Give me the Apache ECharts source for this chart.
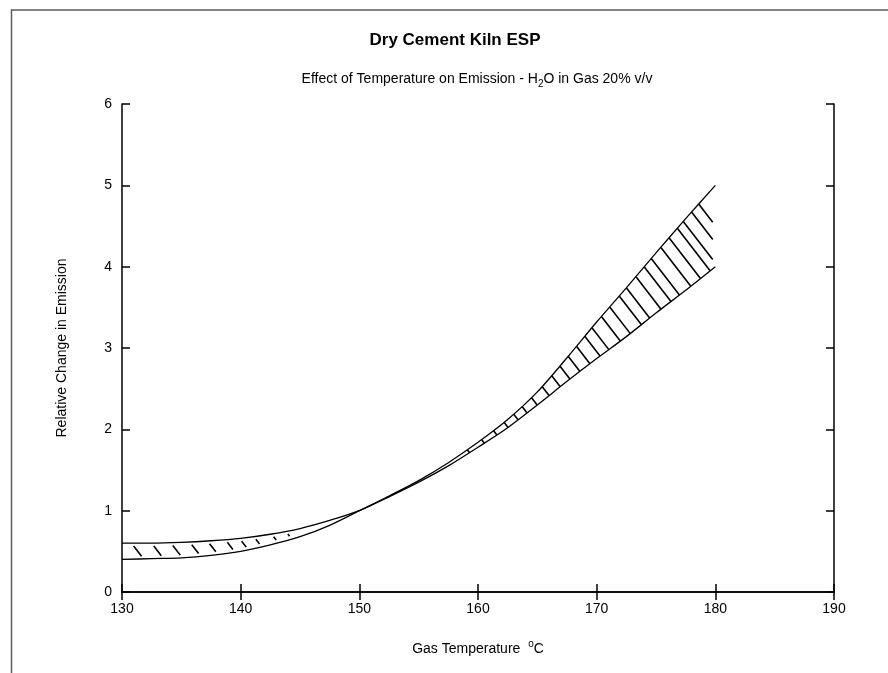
<!DOCTYPE html>
<html>
<head>
<meta charset="utf-8">
<title>Dry Cement Kiln ESP</title>
<script src="https://cdn.jsdelivr.net/npm/echarts@6/dist/echarts.min.js"></script>
<style>
  html, body { margin: 0; padding: 0; background: #fff; }
  #chart { width: 888px; height: 673px; }
</style>
</head>
<body>
<div id="chart"></div>
<script>
// gas temperature, degC
var tempC = [130, 132.5, 135, 137.5, 140, 142.5, 145, 147.5, 150, 152.5, 155,
  157.5, 160, 162.5, 165, 167.5, 170, 172.5, 175, 177.5, 180];
// band edge that starts low (0.4) and ends high (5.0)
var emissionA = [0.40, 0.41, 0.42, 0.45, 0.50, 0.58, 0.68, 0.82, 1.00, 1.18, 1.37,
  1.59, 1.84, 2.12, 2.46, 2.88, 3.32, 3.74, 4.17, 4.59, 5.00];
// band edge that starts high (0.6) and ends low (4.0)
var emissionB = [0.60, 0.60, 0.61, 0.63, 0.66, 0.71, 0.78, 0.88, 1.00, 1.17, 1.35,
  1.55, 1.78, 2.02, 2.30, 2.59, 2.87, 3.14, 3.43, 3.71, 4.00];
// temperatures where hatch strokes leave the upper edge of the band
var hatchTemps = [130.8, 132.5, 134.1, 135.7, 137.2, 138.7, 139.9, 141.1, 142.6, 143.8,
  159.1, 160.3, 161.3, 162.2, 163.0, 163.7, 164.5, 165.4, 166.2, 166.9, 167.6, 168.3,
  169.0, 169.6, 170.4, 171.1, 171.9, 172.5, 173.3, 174.0, 174.6, 175.4, 176.1, 176.8,
  177.3, 178.0, 178.6];
var xTicks = [130, 140, 150, 160, 170, 180, 190];
var yTicks = [0, 1, 2, 3, 4, 5, 6];

var FONT = "'Liberation Sans', Arial, sans-serif";

var chart = echarts.init(document.getElementById('chart'));

function edgeAt(px, pts) {
  for (var i = 1; i < pts.length; i++) {
    if (px <= pts[i][0]) {
      var a = pts[i - 1], b = pts[i];
      var t = (px - a[0]) / (b[0] - a[0]);
      return a[1] + t * (b[1] - a[1]);
    }
  }
  return pts[pts.length - 1][1];
}

function renderHatch(params, api) {
  var top = [], bot = [];
  for (var i = 0; i < tempC.length; i++) {
    var pa = api.coord([tempC[i], emissionA[i]]);
    var pb = api.coord([tempC[i], emissionB[i]]);
    top.push([pa[0], Math.min(pa[1], pb[1])]);
    bot.push([pa[0], Math.max(pa[1], pb[1])]);
  }
  var xEnd = api.coord([tempC[tempC.length - 1], 0])[0] - 2.5;
  var t0 = api.value(0);
  var x0 = api.coord([t0, 0])[0];
  var y0 = edgeAt(x0, top);
  var dx = 0.61, dy = 0.79;
  var t = 0;
  while (t < 200) {
    var x = x0 + t * dx, y = y0 + t * dy;
    if (y >= edgeAt(x, bot) || x >= xEnd) break;
    t += 0.25;
  }
  var gap = t0 < 150 ? 3.5 : 0.3;
  var len = t - 2 * gap;
  if (len < 2.5) { gap = Math.max(0, (t - 2.5) / 2); len = t - 2 * gap; }
  return {
    type: 'line',
    shape: {
      x1: x0 + gap * dx, y1: y0 + gap * dy,
      x2: x0 + (gap + len) * dx, y2: y0 + (gap + len) * dy
    },
    style: { stroke: '#000', lineWidth: 1.6 }
  };
}

var axisLineStyle = { show: true, lineStyle: { color: '#000', width: 1.5 } };
var tickStyle = { show: true, inside: true, length: 8, lineStyle: { color: '#000', width: 1.5 } };

var option = {
  animation: false,
  backgroundColor: '#fff',
  grid: { left: 122, right: 54, top: 104, bottom: 81, containLabel: false },
  graphic: [
    {
      type: 'rect', z: -10, silent: true,
      shape: { x: 11.5, y: 10, width: 1000, height: 1000 },
      style: { fill: null, stroke: '#5c5c5c', lineWidth: 1.5 }
    },
    {
      type: 'text', x: 455, y: 40,
      style: {
        text: 'Dry Cement Kiln ESP', fontFamily: FONT, fontSize: 17, fontWeight: 'bold',
        fill: '#000', align: 'center', verticalAlign: 'middle'
      }
    },
    {
      type: 'text', x: 477, y: 79,
      style: {
        text: '{t|Effect of Temperature on Emission - H}{s|2}{t|O in Gas 20% v/v}',
        align: 'center', verticalAlign: 'middle', fill: '#000',
        rich: {
          t: { fontFamily: FONT, fontSize: 14, lineHeight: 20, verticalAlign: 'middle', fill: '#000' },
          s: { fontFamily: FONT, fontSize: 10, lineHeight: 10, verticalAlign: 'bottom', fill: '#000' }
        }
      }
    }
  ],
  xAxis: [
    {
      type: 'value', position: 'bottom',
      min: xTicks[0], max: xTicks[xTicks.length - 1], interval: xTicks[1] - xTicks[0],
      axisLine: axisLineStyle, axisTick: tickStyle, splitLine: { show: false },
      axisLabel: { color: '#000', fontFamily: FONT, fontSize: 14, margin: 10 },
      name: '{t|Gas Temperature  }{u|o}{t|C}',
      nameLocation: 'middle', nameGap: 47,
      nameTextStyle: {
        rich: {
          t: { fontFamily: FONT, fontSize: 14, lineHeight: 20, verticalAlign: 'middle', color: '#000' },
          u: { fontFamily: FONT, fontSize: 10, lineHeight: 10, verticalAlign: 'top', color: '#000' }
        }
      }
    },
    {
      type: 'value', position: 'top',
      min: xTicks[0], max: xTicks[xTicks.length - 1], interval: xTicks[1] - xTicks[0],
      axisLine: axisLineStyle, axisTick: tickStyle, splitLine: { show: false },
      axisLabel: { show: false }
    }
  ],
  yAxis: [
    {
      type: 'value', position: 'left',
      min: yTicks[0], max: yTicks[yTicks.length - 1], interval: yTicks[1] - yTicks[0],
      axisLine: axisLineStyle, axisTick: tickStyle, splitLine: { show: false },
      axisLabel: { color: '#000', fontFamily: FONT, fontSize: 14, margin: 10 },
      name: 'Relative Change in Emission',
      nameLocation: 'middle', nameGap: 53, nameRotate: 90,
      nameTextStyle: { color: '#000', fontFamily: FONT, fontSize: 14 }
    },
    {
      type: 'value', position: 'right',
      min: yTicks[0], max: yTicks[yTicks.length - 1], interval: yTicks[1] - yTicks[0],
      axisLine: axisLineStyle, axisTick: tickStyle, splitLine: { show: false },
      axisLabel: { show: false }
    }
  ],
  series: [
    {
      name: 'Edge A', type: 'line', smooth: 0.3, showSymbol: false, symbol: 'none',
      lineStyle: { color: '#000', width: 1.3 },
      data: tempC.map(function (x, i) { return [x, emissionA[i]]; })
    },
    {
      name: 'Edge B', type: 'line', smooth: 0.3, showSymbol: false, symbol: 'none',
      lineStyle: { color: '#000', width: 1.3 },
      data: tempC.map(function (x, i) { return [x, emissionB[i]]; })
    },
    {
      name: 'Hatch', type: 'custom', renderItem: renderHatch,
      encode: { x: 0 },
      data: hatchTemps.map(function (x) { return [x]; })
    }
  ]
};

chart.setOption(option);
window.addEventListener('resize', chart.resize);
</script>
</body>
</html>
